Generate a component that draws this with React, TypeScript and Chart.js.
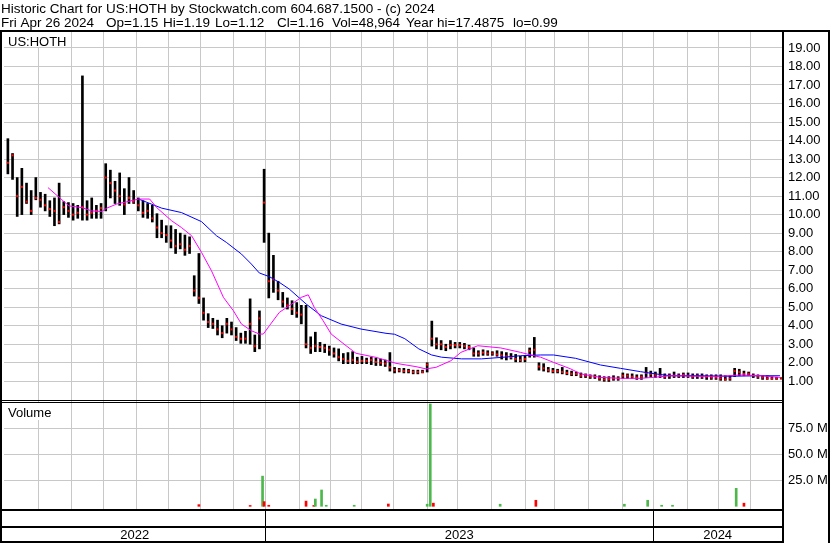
import React, { useEffect, useRef } from 'react';
import { Chart, registerables } from 'chart.js';

Chart.register(...registerables);

const TITLE = 'Historic Chart for US:HOTH by Stockwatch.com 604.687.1500 - (c) 2024';
const INFO_PARTS = ['Fri Apr 26 2024', 'Op=1.15', 'Hi=1.19', 'Lo=1.12', 'Cl=1.16', 'Vol=48,964', 'Year hi=17.4875', 'lo=0.99'];
const INFO_X = [1, 106, 163, 215, 277, 332, 406, 513];
const SYMBOL = 'US:HOTH';
const VOLUME_LABEL = 'Volume';
const YEAR_LABELS = ['2022', '2023', '2024'];
// trading-day index of year / month starts
const YEAR_STARTS = [167.8, 417.6];
const MONTH_STARTS = [22.0, 43.2, 63.7, 84.9, 105.5, 126.0, 147.2, 167.8, 189.6, 209.5, 229.4, 250.6, 272.5, 291.7, 313.6, 335.4, 354.1, 375.9, 397.7, 417.6, 439.5, 459.4, 480.0];
const PRICE_TICKS = [1, 2, 3, 4, 5, 6, 7, 8, 9, 10, 11, 12, 13, 14, 15, 16, 17, 18, 19];
const VOLUME_TICKS = [25, 50, 75];

// price bars: one bar every 3 trading days starting at day 2
const BAR_STEP = 3;
const BAR_START = 2;
const HI = [
  14.1, 13.3, 12.0, 12.5, 11.7, 11.3, 12.0, 11.2, 11.1, 10.75,
  10.9, 11.7, 10.7, 10.65, 10.6, 10.5, 17.49, 10.75, 10.9, 10.5,
  10.6, 12.75, 12.4, 11.8, 12.25, 11.4, 12.0, 11.3, 10.9, 10.75,
  10.6, 10.5, 10.05, 9.7, 9.4, 9.4, 9.2, 9.0, 8.9, 8.8,
  6.7, 7.9, 5.5, 4.65, 4.4, 4.3, 4.0, 4.4, 4.2, 3.9,
  3.6, 3.7, 5.45, 3.5, 4.8, 12.45, 9.0, 7.8, 6.4, 5.8,
  5.5, 5.35, 5.25, 5.1, 5.1, 3.4, 3.65, 3.1, 3.0, 2.9,
  2.8, 2.75, 2.5, 2.55, 2.6, 2.3, 2.35, 2.25, 2.3, 2.25,
  2.2, 2.15, 2.55, 1.75, 1.7, 1.7, 1.65, 1.6, 1.6, 1.6,
  2.0, 4.25, 3.35, 3.2, 3.0, 3.2, 3.1, 3.1, 3.05, 2.95,
  2.8, 2.65, 2.7, 2.65, 2.6, 2.65, 2.6, 2.55, 2.5, 2.45,
  2.35, 2.4, 2.8, 3.37, 2.0, 1.95, 1.75, 1.7, 1.65, 1.75,
  1.6, 1.55, 1.5, 1.45, 1.4, 1.35, 1.35, 1.3, 1.25, 1.25,
  1.3, 1.25, 1.45, 1.4, 1.4, 1.35, 1.35, 1.75, 1.55, 1.5,
  1.7, 1.4, 1.4, 1.5, 1.4, 1.45, 1.45, 1.4, 1.4, 1.4,
  1.35, 1.35, 1.35, 1.35, 1.3, 1.3, 1.7, 1.65, 1.55, 1.5,
  1.4, 1.35, 1.3, 1.3, 1.25, 1.22, 1.19,
];
const LO = [
  12.2, 11.9, 9.9, 10.0, 10.6, 10.0, 10.8, 10.4, 10.2, 9.9,
  9.4, 9.5, 10.0, 9.85, 9.7, 9.8, 9.7, 9.7, 9.8, 9.8,
  9.8, 10.2, 10.9, 10.6, 10.5, 10.0, 10.6, 10.6, 10.2, 9.85,
  9.8, 9.6, 8.75, 8.75, 8.5, 8.2, 7.9, 8.15, 7.8, 7.9,
  5.6, 5.2, 4.3, 3.9, 3.85, 3.5, 3.35, 3.6, 3.5, 3.2,
  3.05, 3.05, 3.0, 2.6, 2.75, 8.5, 5.5, 5.8, 5.4, 5.0,
  4.9, 4.6, 4.45, 4.1, 2.8, 2.5, 2.6, 2.6, 2.55, 2.4,
  2.3, 2.1, 1.95, 1.95, 1.95, 1.95, 1.95, 1.95, 1.9, 1.85,
  1.85, 1.8, 1.55, 1.45, 1.5, 1.45, 1.45, 1.4, 1.4, 1.45,
  1.5, 2.9, 2.75, 2.7, 2.65, 2.75, 2.8, 2.8, 2.75, 2.7,
  2.35, 2.35, 2.4, 2.4, 2.4, 2.35, 2.2, 2.15, 2.2, 2.05,
  2.05, 2.05, 2.3, 2.3, 1.6, 1.55, 1.5, 1.45, 1.45, 1.4,
  1.35, 1.3, 1.3, 1.2, 1.2, 1.15, 1.15, 1.05, 1.0, 0.99,
  1.05, 1.05, 1.15, 1.15, 1.15, 1.1, 1.1, 1.2, 1.25, 1.2,
  1.2, 1.15, 1.15, 1.2, 1.2, 1.2, 1.2, 1.15, 1.15, 1.15,
  1.1, 1.1, 1.1, 1.05, 1.05, 1.05, 1.25, 1.3, 1.3, 1.3,
  1.2, 1.15, 1.1, 1.1, 1.1, 1.1, 1.12,
];
const CL = [
  12.8, 13.2, 11.0, 11.5, 10.7, 10.2, 10.9, 10.8, 10.5, 10.3,
  10.2, 9.6, 10.4, 10.2, 10.0, 10.1, 10.4, 10.0, 10.1, 10.2,
  10.35, 12.0, 11.7, 11.3, 11.0, 10.55, 10.9, 10.7, 10.5, 10.1,
  10.2, 9.8, 9.3, 9.0, 8.9, 8.6, 8.3, 8.4, 8.1, 8.3,
  5.9, 5.5, 4.7, 4.2, 4.1, 3.8, 3.6, 4.1, 3.8, 3.4,
  3.3, 3.3, 4.1, 2.9, 4.4, 10.65, 6.4, 6.5, 5.9, 5.3,
  5.1, 4.9, 4.7, 4.6, 3.0, 2.8, 2.9, 2.85, 2.8, 2.7,
  2.5, 2.3, 2.2, 2.1, 2.15, 2.05, 2.1, 2.1, 2.15, 2.05,
  2.0, 1.95, 1.75, 1.6, 1.6, 1.55, 1.55, 1.5, 1.5, 1.5,
  1.9, 3.3, 3.0, 3.0, 2.85, 2.95, 2.95, 2.95, 2.9, 2.85,
  2.5, 2.5, 2.55, 2.5, 2.5, 2.45, 2.4, 2.35, 2.3, 2.2,
  2.15, 2.2, 2.65, 2.7, 1.8, 1.7, 1.6, 1.55, 1.55, 1.5,
  1.45, 1.4, 1.4, 1.3, 1.3, 1.25, 1.25, 1.15, 1.1, 1.1,
  1.15, 1.15, 1.3, 1.3, 1.25, 1.2, 1.25, 1.45, 1.4, 1.35,
  1.3, 1.25, 1.3, 1.3, 1.3, 1.35, 1.3, 1.25, 1.3, 1.25,
  1.25, 1.2, 1.2, 1.15, 1.1, 1.15, 1.55, 1.5, 1.4, 1.4,
  1.3, 1.25, 1.2, 1.15, 1.15, 1.15, 1.16,
];

// moving averages
const MA_FAST_DAYS = [27.8, 36.8, 41.3, 49.6, 56.0, 62.4, 65.7, 72.1, 78.5, 86.2, 93.3, 97.8, 107.4, 113.8, 120.3, 126.7, 133.1, 140.8, 147.2, 152.4, 158.8, 163.9, 166.5, 170.4, 176.8, 183.2, 190.9, 195.4, 199.3, 205.0, 210.2, 219.8, 226.2, 239.1, 251.9, 264.8, 271.2, 277.6, 287.3, 293.7, 304.6, 319.4, 332.2, 338.7, 345.1, 353.4, 364.4, 370.8, 383.6, 396.4, 409.3, 417.6, 428.6, 447.8, 460.7, 473.5, 486.4, 499.2];
const MA_FAST = [11.46, 10.8, 10.47, 10.38, 10.2, 10.17, 10.35, 10.57, 10.69, 10.84, 10.84, 10.38, 9.67, 9.3, 8.86, 7.96, 6.97, 5.53, 4.81, 4.09, 3.73, 3.55, 3.55, 4.0, 4.72, 5.08, 5.53, 5.67, 4.99, 4.27, 3.55, 2.92, 2.51, 2.29, 1.97, 1.79, 1.67, 1.75, 2.11, 2.56, 2.92, 2.8, 2.56, 2.42, 2.3, 2.02, 1.67, 1.4, 1.21, 1.16, 1.16, 1.21, 1.3, 1.27, 1.27, 1.34, 1.3, 1.21];
const MA_SLOW_DAYS = [86.2, 101.0, 113.8, 126.7, 136.3, 142.7, 152.4, 158.8, 163.9, 170.4, 176.8, 183.2, 194.1, 203.8, 216.6, 229.4, 245.5, 251.0, 257.6, 266.6, 274.9, 281.3, 294.2, 307.0, 319.9, 332.2, 345.1, 353.4, 367.6, 383.6, 396.4, 409.3, 418.9, 428.6, 447.8, 467.1, 486.4, 499.2];
const MA_SLOW = [10.84, 10.35, 10.11, 9.62, 8.86, 8.5, 7.87, 7.33, 6.85, 6.65, 6.34, 5.98, 5.17, 4.54, 4.09, 3.82, 3.59, 3.54, 3.3, 2.75, 2.42, 2.3, 2.21, 2.21, 2.29, 2.38, 2.42, 2.42, 2.24, 1.88, 1.7, 1.52, 1.4, 1.3, 1.3, 1.27, 1.3, 1.3];

// volume (millions)
const VOL_DAYS = [125, 158, 166, 167, 170, 194, 199, 200, 204, 207, 225, 247, 272, 274, 276, 319, 342, 399, 414, 423, 430, 471, 476];
const VOL_M = [1.6, 0.8, 29, 4.5, 1, 5, 0.8, 7, 15.7, 1, 1, 2.2, 2, 98.4, 3, 2, 5.8, 2, 5.8, 1, 1, 17.3, 3];
const VOL_UP = [0, 0, 1, 0, 0, 0, 0, 1, 1, 1, 1, 0, 1, 1, 0, 1, 0, 1, 1, 1, 1, 1, 0];

const FONT_FAMILY = '"Liberation Sans", Arial, sans-serif';
const GRID = '#c8c8c8';

const framePlugin = {
  id: 'frame',
  beforeDraw(chart: any) {
    const ctx = chart.ctx;
    ctx.save();
    ctx.fillStyle = '#ffffff';
    ctx.fillRect(0, 0, chart.width, chart.height);
    ctx.restore();
  },
  afterDraw(chart: any) {
    const { ctx, chartArea: a, scales } = chart;
    const xs = scales.x;
    const W = chart.width;
    const H = chart.height;
    const sep = Math.round(scales.y.bottom);
    ctx.save();
    ctx.fillStyle = '#000';
    ctx.fillRect(0, 30, W, 2);
    ctx.fillRect(0, 30, 2, H - 30);
    ctx.fillRect(a.right, 30, 2, H - 30);
    ctx.fillRect(W - 2, 30, 2, H - 30);
    ctx.fillRect(0, sep - 1, a.right, 1);
    ctx.fillRect(0, sep + 1, a.right, 1);
    ctx.fillRect(0, a.bottom, a.right, 2);
    ctx.fillRect(0, a.bottom + 17, a.right, 2);
    ctx.fillRect(0, H - 2, a.right + 2, 2);
    YEAR_STARTS.forEach((d) => {
      const px = Math.round(xs.getPixelForValue(d));
      ctx.fillRect(px, a.bottom, 1, H - a.bottom);
    });
    // label boxes
    ctx.fillStyle = '#fff';
    ctx.fillRect(3, 32, 66, 15);
    ctx.fillRect(3, sep + 2, 54, 17);
    ctx.fillStyle = '#000';
    ctx.textBaseline = 'alphabetic';
    ctx.textAlign = 'left';
    ctx.font = '13.5px ' + FONT_FAMILY;
    ctx.fillText(TITLE, 1, 13);
    INFO_PARTS.forEach((t, i) => ctx.fillText(t, INFO_X[i], 27));
    ctx.font = '13px ' + FONT_FAMILY;
    ctx.fillText(SYMBOL, 8, 46);
    ctx.fillText(VOLUME_LABEL, 8, sep + 16);
    ctx.textAlign = 'center';
    const bounds = [xs.min, ...YEAR_STARTS, xs.max];
    YEAR_LABELS.forEach((lab, k) => {
      const l = xs.getPixelForValue(bounds[k]);
      const r = xs.getPixelForValue(bounds[k + 1]);
      ctx.fillText(lab, (l + r) / 2, H - 4);
    });
    ctx.restore();
  },
};

export default function App() {
  const ref = useRef<HTMLCanvasElement | null>(null);
  useEffect(() => {
    if (!ref.current) return;
    const barDays = HI.map((_, i) => BAR_START + i * BAR_STEP);
    const chart = new Chart(ref.current, {
      type: 'bar',
      data: {
        datasets: [
          {
            type: 'line',
            label: 'MA fast',
            data: MA_FAST_DAYS.map((d, i) => ({ x: d, y: MA_FAST[i] })),
            borderColor: '#ff00ff',
            borderWidth: 1,
            pointRadius: 0,
            tension: 0,
            yAxisID: 'y',
            order: 0,
          } as any,
          {
            type: 'line',
            label: 'MA slow',
            data: MA_SLOW_DAYS.map((d, i) => ({ x: d, y: MA_SLOW[i] })),
            borderColor: '#0000ff',
            borderWidth: 1,
            pointRadius: 0,
            tension: 0,
            yAxisID: 'y',
            order: 0,
          } as any,
          {
            type: 'line',
            label: 'Close',
            data: barDays.map((d, i) => ({ x: d, y: CL[i] })),
            showLine: false,
            pointStyle: 'rect',
            pointRadius: 1.42,
            pointBorderWidth: 0,
            pointBackgroundColor: '#ff0000',
            yAxisID: 'y',
            order: 1,
          } as any,
          {
            type: 'bar',
            label: 'Range',
            data: barDays.map((d, i) => ({ x: d, y: [LO[i], HI[i]] })),
            backgroundColor: '#000000',
            barThickness: 2,
            stack: 'g',
            yAxisID: 'y',
            order: 2,
          } as any,
          {
            type: 'bar',
            label: 'Volume',
            data: VOL_DAYS.map((d, i) => ({ x: d, y: VOL_M[i] })),
            backgroundColor: VOL_UP.map((u) => (u ? '#4cb84c' : '#ff0000')),
            barThickness: 2,
            stack: 'g',
            yAxisID: 'yv',
            order: 3,
          } as any,
        ],
      },
      options: {
        animation: false,
        responsive: false,
        devicePixelRatio: 1,
        events: [],
        layout: { padding: { top: 32, left: 2, right: 0, bottom: 34 } },
        plugins: { legend: { display: false }, tooltip: { enabled: false }, title: { display: false } },
        scales: {
          x: {
            type: 'linear',
            min: -0.5,
            max: 500.5,
            offset: false,
            grid: { color: GRID, drawTicks: false, offset: false, lineWidth: 1 },
            border: { display: false },
            ticks: { display: false },
            afterBuildTicks: (s: any) => {
              s.ticks = MONTH_STARTS.map((v) => ({ value: v }));
            },
          },
          y: {
            type: 'linear',
            axis: 'y',
            position: 'right',
            stack: 'panels',
            stackWeight: 369,
            stacked: false,
            min: -0.065,
            max: 19.86,
            grid: { color: GRID, drawTicks: false, lineWidth: 1 },
            border: { display: false },
            ticks: {
              autoSkip: false,
              padding: 6,
              color: '#000',
              font: { family: FONT_FAMILY, size: 13 },
              callback: (v: any) => Number(v).toFixed(2),
            },
            afterBuildTicks: (s: any) => {
              s.ticks = PRICE_TICKS.map((v) => ({ value: v }));
            },
            afterFit: (s: any) => {
              s.width = 48;
            },
          },
          yv: {
            type: 'linear',
            axis: 'y',
            position: 'right',
            stack: 'panels',
            stackWeight: 108,
            stacked: false,
            min: -2.6,
            max: 101.25,
            grid: { color: GRID, drawTicks: false, lineWidth: 1 },
            border: { display: false },
            ticks: {
              autoSkip: false,
              padding: 6,
              color: '#000',
              font: { family: FONT_FAMILY, size: 13 },
              callback: (v: any) => Number(v).toFixed(1) + ' M',
            },
            afterBuildTicks: (s: any) => {
              s.ticks = VOLUME_TICKS.map((v) => ({ value: v }));
            },
            afterFit: (s: any) => {
              s.width = 48;
            },
          },
        },
      } as any,
      plugins: [framePlugin],
    });
    return () => chart.destroy();
  }, []);
  return (
    <div style={{ position: 'fixed', left: 0, top: 0, width: 830, height: 543, background: '#fff' }}>
      <canvas ref={ref} width={830} height={543} style={{ display: 'block' }} />
    </div>
  );
}
